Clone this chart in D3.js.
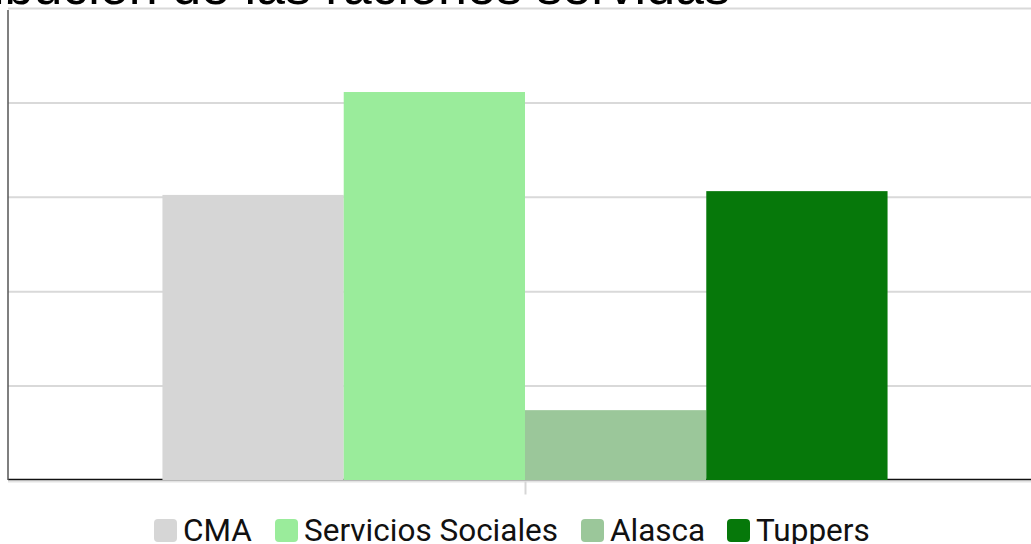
<!DOCTYPE html>
<html><head><meta charset="utf-8">
<script src="https://cdn.jsdelivr.net/npm/d3@7"></script>
<style>html,body{margin:0;padding:0;background:#fff;overflow:hidden}</style>
</head><body>
<svg id="c" width="1031" height="544"></svg>
<script>
const title = "Distribución de las raciones servidas";
const categories = [""];
const seriesNames = ["CMA", "Servicios Sociales", "Alasca", "Tuppers"];
const seriesValues = [302, 411, 74, 306];
const seriesColors = ["#d6d6d6", "#9aec9b", "#9bc79a", "#06780a"];
const yTicks = [0, 100, 200, 300, 400, 500];

const svg = d3.select("#c");
const L = 8, R = 1042, T = 8, B = 480;

const x0 = d3.scaleBand().domain(categories).range([L, R]).paddingInner(0).paddingOuter(0.213);
const x1 = d3.scaleBand().domain(seriesNames).range([0, x0.bandwidth()]);
const y = d3.scaleLinear().domain([0, 500]).range([B, T]);

// title
svg.append("text").attr("x", 730).attr("y", 4).attr("text-anchor", "end")
  .attr("font-family", "Liberation Sans, Arial, sans-serif").attr("font-size", 52)
  .attr("fill", "#000").text(title);

// gridlines
const grid = svg.append("g").attr("transform", `translate(${L},0)`)
  .call(d3.axisLeft(y).tickValues(yTicks.slice(1)).tickSize(-(1031 - L)).tickFormat(""));
grid.select(".domain").remove();
grid.selectAll(".tick line").attr("stroke", "#d9d9d9").attr("stroke-width", 2);

// bottom gray line + tick
const xa = svg.append("g").attr("transform", `translate(0,${B + 1.5})`)
  .call(d3.axisBottom(x0).tickSize(13).tickSizeOuter(0).tickFormat(""));
xa.select(".domain").attr("stroke", "#e3e3e3").attr("stroke-width", 2).attr("d", `M${L},0H1031`);
xa.selectAll(".tick line").attr("stroke", "#d6d6d6").attr("stroke-width", 2)
  .attr("transform", "translate(0.5,0)");

// baseline
svg.append("line").attr("x1", L).attr("x2", 1031).attr("y1", B - 0.5).attr("y2", B - 0.5)
  .attr("stroke", "#111").attr("stroke-width", 1.5);

// bars
const data = seriesNames.map((s, i) => ({ s, v: seriesValues[i], c: seriesColors[i], cat: categories[0] }));
svg.append("g").selectAll("rect").data(data).join("rect")
  .attr("x", d => x0(d.cat) + x1(d.s))
  .attr("width", x1.bandwidth())
  .attr("y", d => y(d.v))
  .attr("height", d => B - y(d.v))
  .attr("fill", d => d.c);

// left axis
svg.append("line").attr("x1", L).attr("x2", L).attr("y1", T + 2).attr("y2", B)
  .attr("stroke", "#555").attr("stroke-width", 1.5);

// legend
const lg = svg.append("g").attr("font-family", "Roboto, sans-serif").attr("font-size", 31.5);
const legX = [154, 275, 581, 727];
seriesNames.forEach((s, i) => {
  const g = lg.append("g").attr("transform", `translate(${legX[i]},519)`);
  g.append("rect").attr("width", 23).attr("height", 23).attr("rx", 4).attr("fill", seriesColors[i]);
  g.append("text").attr("x", 29).attr("y", 22).attr("fill", "#111").text(s);
});
</script>
</body></html>
